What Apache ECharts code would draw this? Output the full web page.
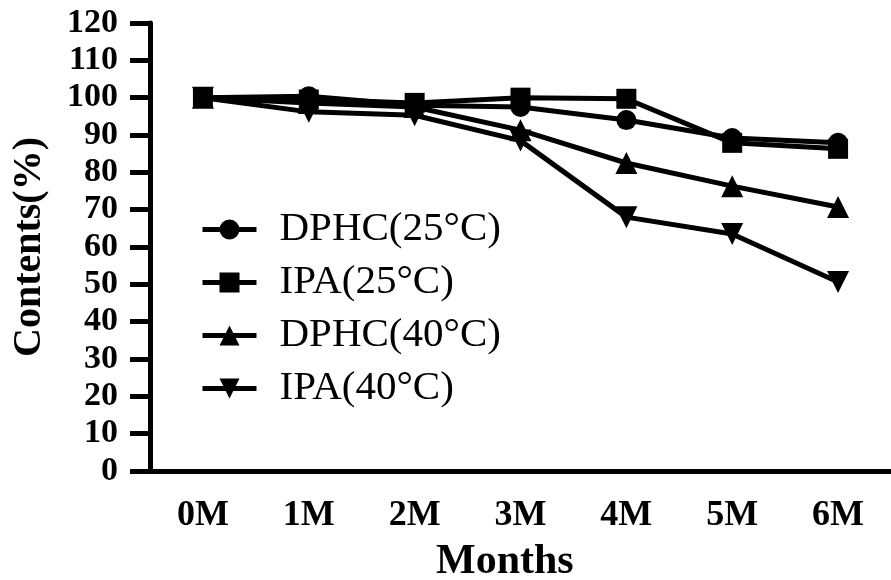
<!DOCTYPE html>
<html>
<head>
<meta charset="utf-8">
<script src="https://cdn.jsdelivr.net/npm/echarts@6/dist/echarts.min.js"></script>
<style>
  html, body { margin: 0; padding: 0; background: #fff; }
  #chart { width: 891px; height: 580px; }
</style>
</head>
<body>
<div id="chart"></div>
<script>
// Storage stability: remaining content (%) over six months
const months = ['0M', '1M', '2M', '3M', '4M', '5M', '6M'];
const dphc25 = [100, 100.4, 98.0, 97.5, 94.0, 89.2, 87.9];
const ipa25  = [100, 99.5, 98.6, 100.0, 99.7, 87.9, 86.3];
const dphc40 = [100, 98.6, 97.5, 91.3, 82.5, 76.3, 70.7];
const ipa40  = [100, 96.2, 95.3, 88.5, 68.0, 63.5, 50.6];
const yTicks = { min: 0, max: 120, step: 10 };

const serif = '"Liberation Serif", "Times New Roman", serif';
const ink = '#000';

function makeSeries(name, values, symbol, rotate, size) {
  return {
    name: name,
    type: 'line',
    data: values,
    symbol: symbol,
    symbolRotate: rotate,
    symbolSize: size,
    showAllSymbol: true,
    lineStyle: { color: ink, width: 5 },
    itemStyle: { color: ink },
    emphasis: { disabled: true },
    animation: false
  };
}

const chart = echarts.init(document.getElementById('chart'), null, { renderer: 'canvas' });
chart.setOption({
  backgroundColor: '#fff',
  animation: false,
  title: {
    text: 'Months',
    left: 436,
    top: 541,
    padding: 0,
    textStyle: { fontFamily: serif, fontWeight: 'bold', fontSize: 42, color: ink }
  },
  grid: { left: 150, right: -8, top: 23, bottom: 109, containLabel: false },
  legend: {
    orient: 'vertical',
    left: 195,
    top: 204,
    itemWidth: 54,
    itemHeight: 25,
    itemGap: 12,
    lineStyle: { width: 5, color: ink },
    itemStyle: { color: ink },
    textStyle: { fontFamily: serif, fontSize: 41, color: ink, padding: [0, 0, 0, 18] },
    data: ['DPHC(25°C)', 'IPA(25°C)', 'DPHC(40°C)', 'IPA(40°C)']
  },
  xAxis: {
    type: 'category',
    data: months,
    boundaryGap: true,
    axisLine: { lineStyle: { color: ink, width: 5 } },
    axisTick: { alignWithLabel: true, length: 17, lineStyle: { color: ink, width: 5 } },
    axisLabel: { fontFamily: serif, fontWeight: 'bold', fontSize: 36, color: ink, margin: 27 },
    splitLine: { show: false }
  },
  yAxis: {
    type: 'value',
    min: yTicks.min,
    max: yTicks.max,
    interval: yTicks.step,
    name: 'Contents(%)',
    nameLocation: 'middle',
    nameGap: 100,
    nameTextStyle: { fontFamily: serif, fontWeight: 'bold', fontSize: 40, color: ink },
    axisLine: { show: true, lineStyle: { color: ink, width: 5 } },
    axisTick: { show: true, length: 20, lineStyle: { color: ink, width: 5 } },
    axisLabel: { fontFamily: serif, fontWeight: 'bold', fontSize: 34, color: ink, margin: 32 },
    splitLine: { show: false }
  },
  series: [
    makeSeries('DPHC(25°C)', dphc25, 'circle', 0, 20),
    makeSeries('IPA(25°C)', ipa25, 'rect', 0, 20),
    makeSeries('DPHC(40°C)', dphc40, 'triangle', 0, 22),
    makeSeries('IPA(40°C)', ipa40, 'triangle', 180, 22)
  ]
});
</script>
</body>
</html>
